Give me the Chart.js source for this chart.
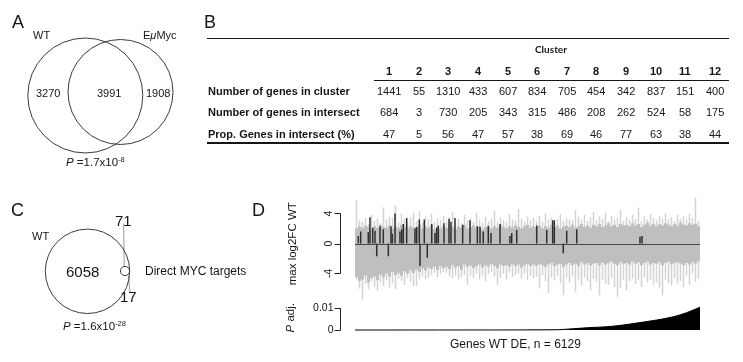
<!DOCTYPE html>
<html><head><meta charset="utf-8">
<script src="https://cdn.jsdelivr.net/npm/chart.js@4.4.0/dist/chart.umd.min.js"></script>
<style>
html,body{margin:0;padding:0;background:#fff;}
#wrap{position:relative;width:743px;height:362px;overflow:hidden;font-family:"Liberation Sans",Arial,Helvetica,sans-serif;color:#161616;}
canvas{position:absolute;}
.t{position:absolute;white-space:nowrap;line-height:1;}
.ln{position:absolute;background:#161616;}
sup{font-size:7.5px;position:relative;top:-4px;vertical-align:baseline;}
</style></head><body><div id="wrap">
<canvas id="vennA" width="200" height="180" style="left:0;top:0"></canvas>
<canvas id="vennC" width="240" height="172" style="left:0;top:190px"></canvas>
<canvas id="dTop" width="420" height="120" style="left:300px;top:190px"></canvas>
<canvas id="dBot" width="420" height="45" style="left:300px;top:300px"></canvas>
</div>
<script>
// ---------- DATA ----------
// Panel A: Venn WT vs EuMyc
const vennALabels = ['WT', 'E<i>μ</i>Myc'];
const vennACounts = [3270, 3991, 1908];
const vennACircleX = [85.3, 120.5];
const vennACircleY = [95.5, 92.0];
const vennACircleR = [57.5, 52.5];
const vennAPValue = '1.7x10<sup>-8</sup>';

// Panel B: table
const clusters = ['1','2','3','4','5','6','7','8','9','10','11','12'];
const rowLabels = ['Number of genes in cluster', 'Number of genes in intersect', 'Prop. Genes in intersect (%)'];
const genesInCluster = [1441, 55, 1310, 433, 607, 834, 705, 454, 342, 837, 151, 400];
const genesInIntersect = [684, 3, 730, 205, 343, 315, 486, 208, 262, 524, 58, 175];
const propInIntersect = [47, 5, 56, 47, 57, 38, 69, 46, 77, 63, 38, 44];

// Panel C: Venn WT DE vs direct MYC targets
const vennCCounts = [6058, 71, 17];
const vennCCircleX = [87.5, 125.0];
const vennCCircleY = [81.3, 81.0];
const vennCCircleR = [42.2, 4.6];
const vennCPValue = '1.6x10<sup>-28</sup>';

// Panel D: max log2FC per gene (binned envelope, ~53 genes per bin) and P adj
const nGenes = 6129;
const fcSpikeUpper = [5.8,3.1,2.9,3.4,2.6,3.8,3.0,3.3,2.7,4.8,
 3.2,3.6,3.4,5.0,2.8,3.9,3.3,2.9,3.5,4.1,
 3.0,4.3,2.8,3.6,3.2,4.0,2.9,3.4,3.1,3.7,
 2.9,3.5,4.2,3.0,3.3,2.7,3.8,3.1,3.4,2.9,
 4.1,3.2,2.8,3.6,3.0,3.3,4.4,2.9,3.5,3.1,
 2.8,3.9,3.2,3.0,4.6,3.3,2.9,3.6,3.1,3.4,
 3.0,3.7,2.9,4.0,3.2,3.5,2.8,3.3,3.9,3.0,
 3.4,3.2,3.1,4.5,3.6,3.2,3.8,3.0,3.5,4.2,
 3.1,3.6,3.3,4.1,2.9,3.7,3.2,3.4,4.5,3.0,
 3.5,3.1,3.8,3.3,4.8,3.0,3.6,3.2,3.9,3.4,
 3.1,3.7,3.3,4.0,3.2,3.5,3.0,3.8,3.3,3.6,
 3.2,3.9,3.4,6.1,3.0];
const fcSpikeLower = [-4.8,-6.0,-7.5,-5.4,-6.1,-5.0,-5.8,-6.3,-5.2,-5.7,
 -4.9,-5.9,-5.3,-6.1,-4.7,-5.0,-5.5,-4.6,-5.1,-5.7,
 -5.7,-4.8,-4.4,-4.7,-4.6,-4.2,-3.9,-4.5,-4.0,-3.8,
 -3.9,-4.4,-4.6,-4.3,-4.8,-4.5,-4.2,-5.5,-4.3,-4.6,
 -4.0,-4.8,-4.3,-5.0,-4.1,-3.8,-4.4,-5.5,-4.6,-4.0,
 -4.8,-3.9,-4.5,-4.2,-4.0,-4.7,-4.1,-4.9,-4.3,-4.6,
 -4.4,-6.0,-4.2,-5.0,-6.6,-4.5,-4.9,-4.3,-5.3,-6.9,
 -4.6,-5.2,-4.4,-6.4,-4.8,-5.6,-4.5,-5.0,-6.2,-4.7,
 -5.1,-6.9,-4.8,-5.4,-5.5,-4.6,-5.8,-7.1,-6.0,-4.9,
 -6.3,-5.0,-4.7,-5.4,-4.9,-5.8,-4.5,-5.2,-4.8,-5.5,
 -5.2,-5.9,-6.9,-4.8,-5.3,-5.6,-4.6,-5.4,-5.0,-5.8,
 -4.3,-5.5,-4.0,-5.1,-4.7];
const fcCoreUpper = [2.0,2.3,2.1,2.4,2.2,1.9,2.3,2.1,2.5,2.2,
 2.1,2.4,2.0,2.3,2.1,2.5,2.2,2.0,2.3,2.1,
 2.2,2.5,2.0,2.3,2.1,2.4,1.9,2.2,2.0,2.3,
 2.1,2.4,2.2,1.9,2.3,2.1,2.5,2.0,2.2,2.4,
 2.1,2.3,1.9,2.2,2.4,2.0,2.3,2.1,2.5,2.2,
 2.0,2.3,2.1,2.4,2.2,2.0,2.3,2.5,2.1,2.3,
 2.2,2.4,2.0,2.3,2.1,2.5,2.2,2.4,2.0,2.3,
 2.4,2.2,2.5,2.1,2.3,2.6,2.2,2.4,2.1,2.5,
 2.3,2.6,2.2,2.4,2.7,2.3,2.5,2.2,2.6,2.4,
 2.5,2.3,2.7,2.4,2.6,2.2,2.5,2.8,2.4,2.6,
 2.3,2.6,2.4,2.7,2.5,2.3,2.6,2.4,2.8,2.5,
 2.4,2.7,2.5,2.6,2.3];
const fcCoreLower = [-4.5,-5.0,-4.8,-4.3,-5.2,-4.6,-4.4,-4.9,-4.1,-4.5,
 -4.0,-4.4,-3.8,-4.2,-3.9,-4.3,-3.7,-4.0,-3.6,-3.9,
 -3.5,-3.8,-3.3,-3.6,-3.2,-3.4,-3.1,-3.5,-3.0,-3.3,
 -3.1,-3.4,-2.9,-3.2,-3.0,-3.5,-2.8,-3.1,-2.9,-3.3,
 -3.0,-2.8,-3.2,-2.9,-3.1,-2.7,-3.0,-3.3,-2.8,-3.0,
 -2.9,-3.1,-2.7,-3.0,-2.8,-3.2,-2.9,-2.7,-3.0,-2.8,
 -3.0,-2.7,-2.9,-3.1,-2.8,-2.6,-3.0,-2.8,-2.7,-3.1,
 -2.8,-2.6,-2.9,-2.7,-3.0,-2.5,-2.8,-2.6,-2.9,-2.7,
 -2.6,-2.9,-2.5,-2.8,-2.6,-2.4,-2.7,-2.9,-2.5,-2.7,
 -2.6,-2.8,-2.4,-2.7,-2.5,-2.9,-2.6,-2.4,-2.8,-2.6,
 -2.7,-2.5,-2.9,-2.6,-2.4,-2.8,-2.6,-2.5,-2.7,-2.9,
 -2.6,-2.8,-2.5,-2.7,-2.4];
// direct MYC targets highlighted (gene rank, log2FC)
const mycGene = [59,101,236,266,314,355,444,503,640,663,711,799,830,858,918,1066,1096,1142,1231,1363,
 1421,1451,1480,1581,1670,1705,1776,1913,2043,2173,2221,2279,2368,2416,2576,2753,2784,2873,3228,3406,
 3512,3541,3761,3939,5063,5099,386,592,1155,1284,3700];
const mycFC = [1.0,1.6,1.5,3.5,2.1,1.7,2.3,1.9,2.3,1.3,4.0,1.6,1.9,2.6,3.4,2.0,2.2,3.2,3.2,2.6,
 1.4,2.1,2.4,2.7,3.3,2.9,3.4,2.5,3.1,2.3,2.2,1.6,2.3,1.4,2.6,1.0,1.4,1.8,2.4,1.8,
 3.1,3.1,1.7,1.9,0.9,1.0,-1.7,-1.7,-3.0,-1.9,-1.3];
const pAdjGene = [1,1500,2500,3000,3300,3583,3878,4175,4471,4766,5063,5360,5655,5893,6129];
const pAdjValue = [0,0.00001,0.00002,0.00004,0.00006,0.0001,0.0006,0.0011,0.0015,0.0023,0.0034,0.0046,0.0061,0.008,0.0105];
const fcTicks = [-4, 0, 4];
const pTicks = [0, 0.01];
const pTickLabels = ['0', '0.01'];

// ---------- HELPERS ----------
const wrap = document.getElementById('wrap');
const FONT = '"Liberation Sans", Arial, Helvetica, sans-serif';
function addText(html, x, y, o = {}) {
  const d = document.createElement('div');
  d.className = 't';
  d.innerHTML = html;
  d.style.fontSize = (o.size || 11) + 'px';
  if (o.bold) d.style.fontWeight = 'bold';
  if (o.family) d.style.fontFamily = o.family;
  wrap.appendChild(d);
  const w = d.offsetWidth, h = d.offsetHeight;
  if (o.rotate) {
    d.style.left = (x - w / 2) + 'px';
    d.style.top = (y - h / 2) + 'px';
    d.style.transform = 'rotate(' + o.rotate + 'deg)';
  } else {
    const lx = o.align === 'left' ? x : o.align === 'right' ? x - w : x - w / 2;
    d.style.left = Math.round(lx) + 'px';
    d.style.top = Math.round(y - h / 2) + 'px';
  }
}
function addLine(x, y, w, h) {
  const d = document.createElement('div');
  d.className = 'ln';
  d.style.left = x + 'px'; d.style.top = y + 'px';
  d.style.width = w + 'px'; d.style.height = h + 'px';
  wrap.appendChild(d);
}
const baseOpts = (padding, xs, ys) => ({
  responsive: false, animation: false, events: [],
  layout: { padding },
  plugins: { legend: { display: false }, tooltip: { enabled: false } },
  scales: { x: Object.assign({ type: 'linear', display: false, offset: false }, xs), y: Object.assign({ type: 'linear', display: false }, ys) }
});
const radiusFromScale = c => {
  const s = c.chart.scales.x;
  return Math.abs(s.getPixelForValue(c.raw.r) - s.getPixelForValue(0));
};

// ---------- PANEL A ----------
new Chart(document.getElementById('vennA'), {
  type: 'scatter',
  data: { datasets: [{
    data: vennACircleX.map((x, i) => ({ x, y: vennACircleY[i], r: vennACircleR[i] })),
    pointRadius: radiusFromScale, pointBackgroundColor: 'rgba(0,0,0,0)',
    pointBorderColor: '#3a3a3a', pointBorderWidth: 1, clip: false
  }] },
  options: baseOpts(0, { min: 0, max: 200 }, { min: 0, max: 180, reverse: true })
});
addText('A', 17.5, 21.5, { size: 18 });
addText(vennALabels[0], 33, 35.5, { align: 'left' });
addText(vennALabels[1], 143, 35, { align: 'left' });
addText(String(vennACounts[0]), 48, 93.3);
addText(String(vennACounts[1]), 108.5, 93.3);
addText(String(vennACounts[2]), 158.2, 93.3);
addText('<i>P</i> =' + vennAPValue, 65.5, 163, { align: 'left', size: 11.5 });

// ---------- PANEL B ----------
addText('B', 209.7, 21.5, { size: 18 });
addLine(207, 37.5, 522, 1.8);
addLine(374, 80, 355, 1);
addLine(207, 142, 522, 1.8);
addText('Cluster', 551, 49, { bold: true, size: 10, family: 'Lato, "Open Sans", sans-serif' });
const colX = i => 389 + i * 29.64;
const rowY = [91.7, 112.7, 134];
const rows = [genesInCluster, genesInIntersect, propInIntersect];
clusters.forEach((c, i) => addText(c, colX(i), 71, { bold: true }));
rowLabels.forEach((lab, r) => {
  addText(lab, 208, rowY[r], { align: 'left', bold: true });
  rows[r].forEach((v, i) => addText(String(v), colX(i), rowY[r]));
});

// ---------- PANEL C ----------
new Chart(document.getElementById('vennC'), {
  type: 'scatter',
  data: { datasets: [
    { data: vennCCircleX.map((x, i) => ({ x, y: vennCCircleY[i], r: vennCCircleR[i] })),
      pointRadius: radiusFromScale, pointBackgroundColor: 'rgba(0,0,0,0)',
      pointBorderColor: '#3a3a3a', pointBorderWidth: 1, clip: false },
    { data: [{ x: 123.7, y: 33.5 }, { x: 124.2, y: 76.5 }], showLine: true, pointRadius: 0, borderColor: '#9a9a9a', borderWidth: 1 },
    { data: [{ x: 128.4, y: 86 }, { x: 130, y: 102.5 }], showLine: true, pointRadius: 0, borderColor: '#9a9a9a', borderWidth: 1 }
  ] },
  options: baseOpts(0, { min: 0, max: 240 }, { min: 0, max: 172, reverse: true })
});
addText('C', 17.5, 209.7, { size: 18 });
addText('WT', 31.7, 236.7, { align: 'left' });
addText(String(vennCCounts[0]), 82.7, 271.7, { size: 15 });
addText(String(vennCCounts[1]), 123.3, 220, { size: 15 });
addText(String(vennCCounts[2]), 128.3, 296.7, { size: 15 });
addText('Direct MYC targets', 145, 271.3, { align: 'left', size: 12 });
addText('<i>P</i> =' + vennCPValue, 63.3, 326.7, { align: 'left', size: 11.5 });

// ---------- PANEL D ----------
addText('D', 258.8, 209.7, { size: 18 });
addText('max log2FC WT', 292.3, 244, { rotate: -90, size: 11.5 });
addText('<i>P</i> adj.', 290, 318, { rotate: -90, size: 11.5 });
addText('Genes WT DE, n = ' + nGenes, 515.7, 344.3, { size: 12 });

const binCenter = i => (i + 0.5) * nGenes / fcSpikeUpper.length;
const fcAxis = {
  id: 'fcAxis',
  afterDatasetsDraw(chart) {
    const { ctx, chartArea, scales: { y } } = chart;
    ctx.save();
    const y0 = Math.round(y.getPixelForValue(0)) + 0.5;
    ctx.strokeStyle = '#474747'; ctx.lineWidth = 1.2;
    ctx.beginPath(); ctx.moveTo(chartArea.left, y0); ctx.lineTo(chartArea.right, y0); ctx.stroke();
    const ax = chartArea.left - 15 + 0.5;
    ctx.strokeStyle = '#222'; ctx.lineWidth = 1;
    ctx.beginPath();
    ctx.moveTo(ax, y.getPixelForValue(fcTicks[fcTicks.length - 1]));
    ctx.lineTo(ax, y.getPixelForValue(fcTicks[0]));
    fcTicks.forEach(t => { const p = Math.round(y.getPixelForValue(t)) + 0.5; ctx.moveTo(ax, p); ctx.lineTo(ax - 6, p); });
    ctx.stroke();
    ctx.fillStyle = '#161616';
    ctx.font = '10.5px ' + FONT;
    ctx.textAlign = 'center'; ctx.textBaseline = 'middle';
    fcTicks.forEach(t => {
      ctx.save();
      ctx.translate(ax - 11, y.getPixelForValue(t));
      ctx.rotate(-Math.PI / 2);
      ctx.fillText(String(t), 0, 0);
      ctx.restore();
    });
    ctx.restore();
  }
};
new Chart(document.getElementById('dTop'), {
  type: 'bar',
  data: { datasets: [
    { data: mycGene.map((g, i) => ({ x: g, y: mycFC[i] })), backgroundColor: '#2e2e2e',
      barThickness: 1.5, grouped: false, order: 0, borderWidth: 0, inflateAmount: 0 },
    { data: fcCoreUpper.map((v, i) => ({ x: binCenter(i), y: [fcCoreLower[i], v] })), backgroundColor: '#bfbfbf',
      barThickness: 3.05, grouped: false, order: 1, borderWidth: 0, inflateAmount: 0 },
    { data: fcSpikeUpper.map((v, i) => ({ x: binCenter(i), y: [fcSpikeLower[i], v] })), backgroundColor: '#d3d3d3',
      barThickness: 1.5, grouped: false, order: 2, borderWidth: 0, inflateAmount: 0 }
  ] },
  options: baseOpts({ left: 55, right: 20, top: 7, bottom: 6.5 }, { min: 0, max: nGenes }, { min: -8, max: 6.2 }),
  plugins: [fcAxis]
});

const pAxis = {
  id: 'pAxis',
  afterDraw(chart) {
    const { ctx, chartArea, scales: { y } } = chart;
    ctx.save();
    const ax = chartArea.left - 15 + 0.5;
    ctx.strokeStyle = '#222'; ctx.lineWidth = 1;
    ctx.beginPath();
    ctx.moveTo(ax, y.getPixelForValue(pTicks[pTicks.length - 1]));
    ctx.lineTo(ax, y.getPixelForValue(pTicks[0]));
    pTicks.forEach(t => { const p = Math.round(y.getPixelForValue(t)) + 0.5; ctx.moveTo(ax, p); ctx.lineTo(ax - 6, p); });
    ctx.stroke();
    ctx.fillStyle = '#161616';
    ctx.font = '10.5px ' + FONT;
    ctx.textAlign = 'right'; ctx.textBaseline = 'middle';
    pTicks.forEach((t, i) => ctx.fillText(pTickLabels[i], ax - 7, y.getPixelForValue(t)));
    ctx.restore();
  }
};
new Chart(document.getElementById('dBot'), {
  type: 'line',
  data: { datasets: [{
    data: pAdjGene.map((g, i) => ({ x: g, y: pAdjValue[i] })),
    borderColor: '#000', borderWidth: 1, backgroundColor: '#000', fill: 'origin',
    pointRadius: 0, cubicInterpolationMode: 'monotone', clip: false
  }] },
  options: baseOpts({ left: 55, right: 20, top: 5.7, bottom: 15 }, { min: 0, max: nGenes }, { min: 0, max: 0.0112 }),
  plugins: [pAxis]
});
</script>
</body></html>
